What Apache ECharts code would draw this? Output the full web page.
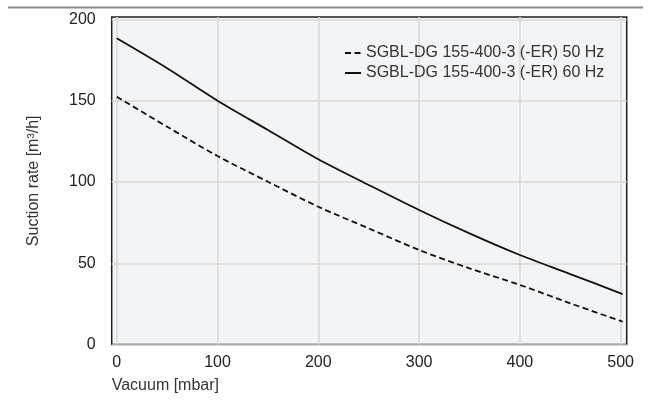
<!DOCTYPE html>
<html>
<head>
<meta charset="utf-8">
<script src="https://cdn.jsdelivr.net/npm/echarts@6/dist/echarts.min.js"></script>
<style>
html,body{margin:0;padding:0;background:#fff;}
#c{width:651px;height:412px;}
</style>
</head>
<body>
<div id="c"></div>
<script>
// Data
const vacuum = [0, 50, 100, 150, 200, 250, 300, 350, 400, 450, 502];
const rate50Hz = [152.5, 134, 116, 100.2, 84.8, 71.5, 58.2, 46.9, 36.7, 25.4, 14.1];
const rate60Hz = [188.4, 170, 150, 132, 114, 98.2, 82.8, 68.4, 55.1, 43.4, 31.1];
const xTicks = [0, 100, 200, 300, 400, 500];
const yTicks = [0, 50, 100, 150, 200];
const seriesNames = ['SGBL-DG 155-400-3 (-ER) 50 Hz', 'SGBL-DG 155-400-3 (-ER) 60 Hz'];

const font = 'Liberation Sans, Arial, Helvetica, sans-serif';
const chart = echarts.init(document.getElementById('c'), null, {renderer: 'canvas'});
const pair = (xs, ys) => xs.map((x, i) => [x, ys[i]]);

chart.setOption({
  animation: false,
  backgroundColor: '#ffffff',
  textStyle: {fontFamily: font},
  graphic: [{
    type: 'line',
    shape: {x1: 8, y1: 7.5, x2: 643, y2: 7.5},
    style: {stroke: '#8c8c8c', lineWidth: 2}
  }],
  grid: {
    left: 111.7, right: 24.3, top: 17, bottom: 67.4,
    show: true, backgroundColor: '#f3f4f6', borderColor: '#1e1e1e', borderWidth: 1.5
  },
  legend: {
    orient: 'vertical',
    left: 344, top: 45, padding: 0,
    itemWidth: 16, itemHeight: 12, itemGap: 4,
    data: seriesNames,
    itemStyle: {opacity: 0},
    textStyle: {fontFamily: font, fontSize: 16, color: '#333', lineHeight: 16}
  },
  xAxis: {
    type: 'value', min: -5, max: 506,
    name: 'Vacuum [mbar]', nameLocation: 'start',
    nameGap: 0,
    nameTextStyle: {fontFamily: font, fontSize: 16, color: '#333', align: 'left', verticalAlign: 'top', padding: [33, 0, 0, 0]},
    axisLine: {show: false},
    axisTick: {show: false, customValues: xTicks},
    axisLabel: {customValues: xTicks, fontFamily: font, fontSize: 16, color: '#222', margin: 10},
    splitLine: {show: true, lineStyle: {color: '#d9d9d9', width: 1.5}}
  },
  yAxis: {
    type: 'value', min: 0, max: 201.5,
    name: 'Suction rate [m³/h]', nameLocation: 'middle', nameGap: 70,
    nameTextStyle: {fontFamily: font, fontSize: 16, color: '#333'},
    axisLine: {show: false},
    axisTick: {show: false, customValues: yTicks},
    axisLabel: {customValues: yTicks, fontFamily: font, fontSize: 16, color: '#222', margin: 16},
    splitLine: {show: true, lineStyle: {color: '#d9d9d9', width: 1.5}}
  },
  series: [
    {
      name: seriesNames[0], type: 'line', smooth: 0.3, symbol: 'none',
      data: pair(vacuum, rate50Hz),
      lineStyle: {color: '#111', width: 1.8, type: [6, 3.5]},
      itemStyle: {color: '#111'}
    },
    {
      name: seriesNames[1], type: 'line', smooth: 0.3, symbol: 'none',
      data: pair(vacuum, rate60Hz),
      lineStyle: {color: '#111', width: 1.8},
      itemStyle: {color: '#111'}
    }
  ]
});
</script>
</body>
</html>
